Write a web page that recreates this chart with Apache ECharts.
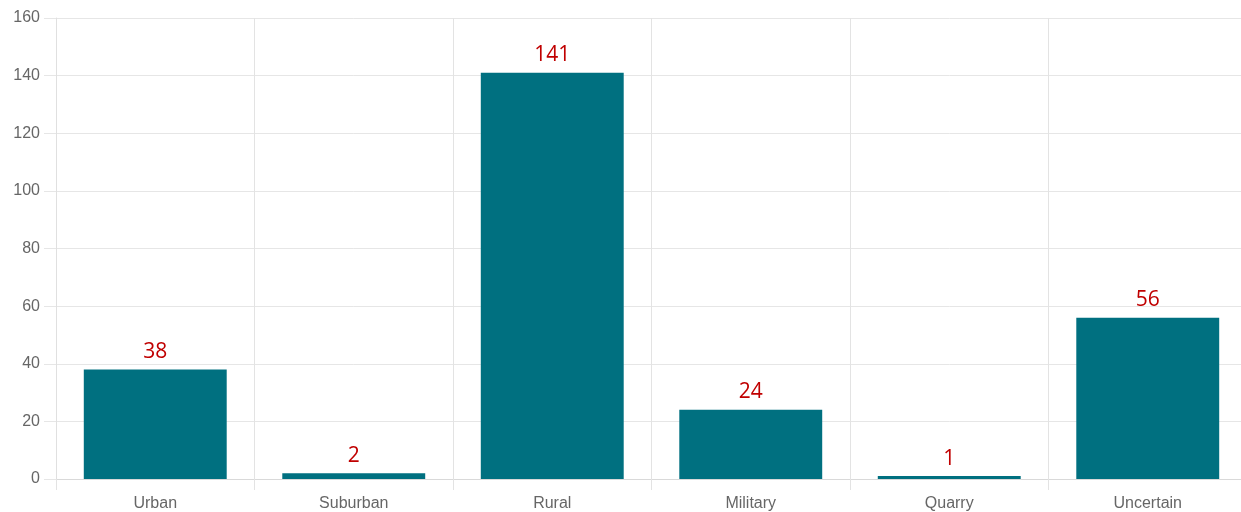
<!DOCTYPE html>
<html>
<head>
<meta charset="utf-8">
<script src="https://cdn.jsdelivr.net/npm/echarts@6/dist/echarts.min.js"></script>
<style>
html,body{margin:0;padding:0;background:#fff;overflow:hidden;width:1241px;height:512px;}
#chart{width:1247px;height:512px;}
</style>
</head>
<body>
<div id="chart"></div>
<script>
const categories = ["Urban", "Suburban", "Rural", "Military", "Quarry", "Uncertain"];
const counts = [38, 2, 141, 24, 1, 56];
const yTicks = { min: 0, max: 160, interval: 20 };

const chart = echarts.init(document.getElementById('chart'), null, { renderer: 'canvas' });
chart.setOption({
  animation: false,
  backgroundColor: '#ffffff',
  grid: { left: 56, right: 0, top: 18, bottom: 33, containLabel: false },
  xAxis: {
    type: 'category',
    data: categories,
    boundaryGap: true,
    axisLine: { show: true, lineStyle: { color: '#d9d9d9', width: 1 } },
    axisTick: { show: true, length: 11, lineStyle: { color: '#e3e3e3' } },
    splitLine: { show: true, lineStyle: { color: '#e3e3e3', width: 1 } },
    axisLabel: { color: '#666666', fontSize: 16, fontFamily: 'Liberation Sans, Arial, sans-serif', margin: 17 }
  },
  yAxis: {
    type: 'value',
    min: yTicks.min, max: yTicks.max, interval: yTicks.interval,
    axisLine: { show: true, lineStyle: { color: '#e0e0e0', width: 1 } },
    axisTick: { show: true, length: 12, lineStyle: { color: '#e6e6e6' } },
    splitLine: { show: true, lineStyle: { color: '#e6e6e6', width: 1 } },
    axisLabel: { color: '#666666', fontSize: 16, fontFamily: 'Liberation Sans, Arial, sans-serif', margin: 16 }
  },
  series: [{
    type: 'bar',
    data: counts,
    barCategoryGap: '28%',
    itemStyle: { color: '#007080' },
    label: {
      show: true,
      position: 'top',
      distance: 7,
      color: '#c00000',
      fontSize: 21,
      fontFamily: 'Open Sans, Noto Sans, sans-serif'
    }
  }]
});
</script>
</body>
</html>
